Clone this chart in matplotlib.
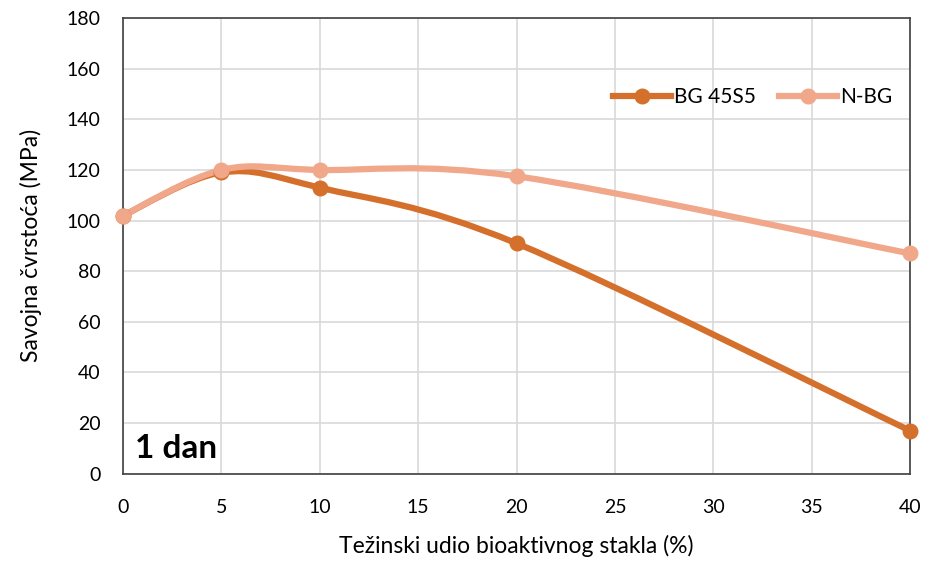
import numpy as np
import matplotlib.pyplot as plt
from matplotlib.path import Path
from matplotlib.patches import PathPatch

plt.rcParams['font.family'] = ['Lato', 'DejaVu Sans']

# podaci
udio = [0, 5, 10, 20, 40]
bg_45s5 = [102, 119, 113, 91, 17]
n_bg = [102, 120, 120, 117.5, 87]
serije = ["BG 45S5", "N-BG"]
boje = ["#D4702C", "#F1A78A"]


def glatka_putanja(x, y):
    """Excel-like smooth line: cubic Bezier through the points"""
    x = np.asarray(x, float)
    y = np.asarray(y, float)
    px = np.concatenate([[x[0]], x, [x[-1]]])
    py = np.concatenate([[y[0]], y, [y[-1]]])
    verts = [(x[0], y[0])]
    codes = [Path.MOVETO]
    for i in range(1, len(x)):
        c1 = (px[i] + (px[i + 1] - px[i - 1]) / 6, py[i] + (py[i + 1] - py[i - 1]) / 6)
        c2 = (px[i + 1] - (px[i + 2] - px[i]) / 6, py[i + 1] - (py[i + 2] - py[i]) / 6)
        verts += [c1, c2, (x[i], y[i])]
        codes += [Path.CURVE4] * 3
    return Path(verts, codes)


fig = plt.figure(figsize=(9.25, 5.64), dpi=100)
ax = fig.add_axes([0.133, 0.16, 0.851, 0.808])

for vrijednosti, ime, boja in zip([bg_45s5, n_bg], serije, boje):
    ax.add_patch(PathPatch(glatka_putanja(udio, vrijednosti), fill=False,
                           edgecolor=boja, lw=4.5, capstyle='round', zorder=3,
                           clip_on=False))
    ax.plot(udio, vrijednosti, 'o', color=boja, ms=10.5, zorder=4, clip_on=False)
    ax.plot([], [], '-o', color=boja, lw=4.5, ms=10.5, label=ime)

ax.set_xlim(0, 40)
ax.set_ylim(0, 180)
ax.set_xticks(range(0, 45, 5))
ax.set_yticks(range(0, 200, 20))
ax.grid(True, color="#d9d9d9", lw=1.2)
ax.set_axisbelow(True)
ax.tick_params(length=0, labelsize=14)
ax.tick_params(axis='x', pad=18)
ax.tick_params(axis='y', pad=16)
for s in ax.spines.values():
    s.set_color("#404040")
    s.set_linewidth(1.2)

ax.set_xlabel("Težinski udio bioaktivnog stakla (%)", fontsize=16.5, labelpad=14)
ax.set_ylabel("Savojna čvrstoća (MPa)", fontsize=16.5, labelpad=18)
ax.text(0.015, 0.035, "1 dan", transform=ax.transAxes, fontsize=24,
        fontweight='bold')

ax.legend(loc='center', bbox_to_anchor=(0.80, 0.827), ncol=2, frameon=False,
          fontsize=15, handlelength=2.8, handletextpad=0.15, columnspacing=1.1)

plt.savefig("out.png", dpi=100)
